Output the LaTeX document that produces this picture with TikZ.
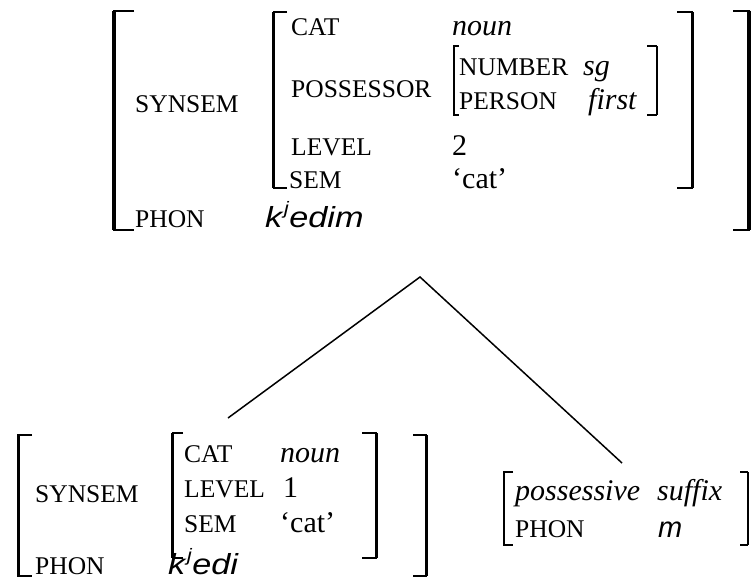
\documentclass[tikz,border=0pt]{standalone}
\usepackage{fontspec}
\setmainfont{Liberation Serif}
\newfontfamily\phonfont{Liberation Sans}
\newcommand\myLBr[6]{% x, ytop, ybot, hookend, thick, thin
  \draw[line width=#6] (#4,#2) -- (#1,#2) -- (#1,#3) -- (#4,#3);
  \draw[line width=#5] (#1,#2) -- (#1,#3);}
\newcommand\palj{\kern1.5pt\raisebox{0.42em}{\fontsize{18}{18}\selectfont j}\kern0.5pt}
\tikzset{
  lab/.style={anchor=base west, inner sep=0pt, font=\fontsize{25.5}{25.5}\selectfont},
  val/.style={anchor=base west, inner sep=0pt, font=\fontsize{30}{30}\selectfont\itshape},
  num/.style={anchor=base west, inner sep=0pt, font=\fontsize{30}{30}\selectfont},
  phonval/.style={anchor=base west, inner sep=0pt, font=\fontsize{29}{29}\selectfont\phonfont\itshape},
  branch/.style={line width=1.5pt},
}
\begin{document}
\begin{tikzpicture}[x=1pt,y=-1pt]
\useasboundingbox (0,0) rectangle (752,579);
% ---------- top structure ----------
\myLBr{114}{10.5}{229.5}{134}{4pt}{2pt}
\myLBr{748.5}{10.5}{229.5}{733}{4pt}{2pt}
\myLBr{273.5}{12}{188}{287}{2.6pt}{1.5pt}
\myLBr{692.5}{12}{188}{677}{2.6pt}{1.5pt}
\myLBr{453.5}{46}{115}{459}{2pt}{1.3pt}
\myLBr{656.5}{46}{115}{647}{2pt}{1.3pt}
\node[lab] (tsynsem) at (135,112) {SYNSEM};
\node[lab] (tphon) at (135,227) {PHON};
\node[phonval] (tphonv) at (265,227) {\scalebox{1.18}[1]{k\palj edim}};
\node[lab] (tcat) at (291,35) {CAT};
\node[val] (tcatv) at (452,35) {noun};
\node[lab] (tposs) at (291,97) {POSSESSOR};
\node[lab] (tnum) at (459,75) {NUMBER};
\node[val] (tnumv) at (583,75) {sg};
\node[lab] (tpers) at (459,109) {PERSON};
\node[val] (tpersv) at (588,109) {first};
\node[lab] (tlev) at (291,155) {LEVEL};
\node[num] (tlevv) at (452,155) {2};
\node[lab] (tsem) at (289,188) {SEM};
\node[num] (tsemv) at (452,188) {‘cat’};
% ---------- tree lines ----------
\coordinate (apex) at (420,277);
\coordinate (lend) at (228,418);
\coordinate (rend) at (622,463);
\draw[branch] (lend) -- (apex) -- (rend);
% ---------- bottom left ----------
\myLBr{18}{435}{576}{32}{3pt}{1.8pt}
\myLBr{426}{435}{576}{413}{3pt}{1.8pt}
\myLBr{172.5}{433}{558}{183}{2.4pt}{1.5pt}
\myLBr{376.5}{433}{558}{362}{2.4pt}{1.5pt}
\node[lab] (bsynsem) at (35,502) {SYNSEM};
\node[lab] (bphon) at (35,574) {PHON};
\node[phonval] (bphonv) at (168,574) {\scalebox{1.18}[1]{k\palj edi}};
\node[lab] (bcat) at (184,462) {CAT};
\node[val] (bcatv) at (280,462) {noun};
\node[lab] (blev) at (184,497) {LEVEL};
\node[num] (blevv) at (283,497) {1};
\node[lab] (bsem) at (184,532) {SEM};
\node[num] (bsemv) at (280,532) {‘cat’};
% ---------- bottom right ----------
\myLBr{503.5}{472}{545}{513}{2pt}{1.3pt}
\myLBr{747.5}{472}{545}{740}{2pt}{1.3pt}
\node[val] (poss) at (515,500) {possessive};
\node[val] (suff) at (657,500) {suffix};
\node[lab] (rphon) at (515,537) {PHON};
\node[phonval] (rphonv) at (658,537) {m};
\end{tikzpicture}
\end{document}
